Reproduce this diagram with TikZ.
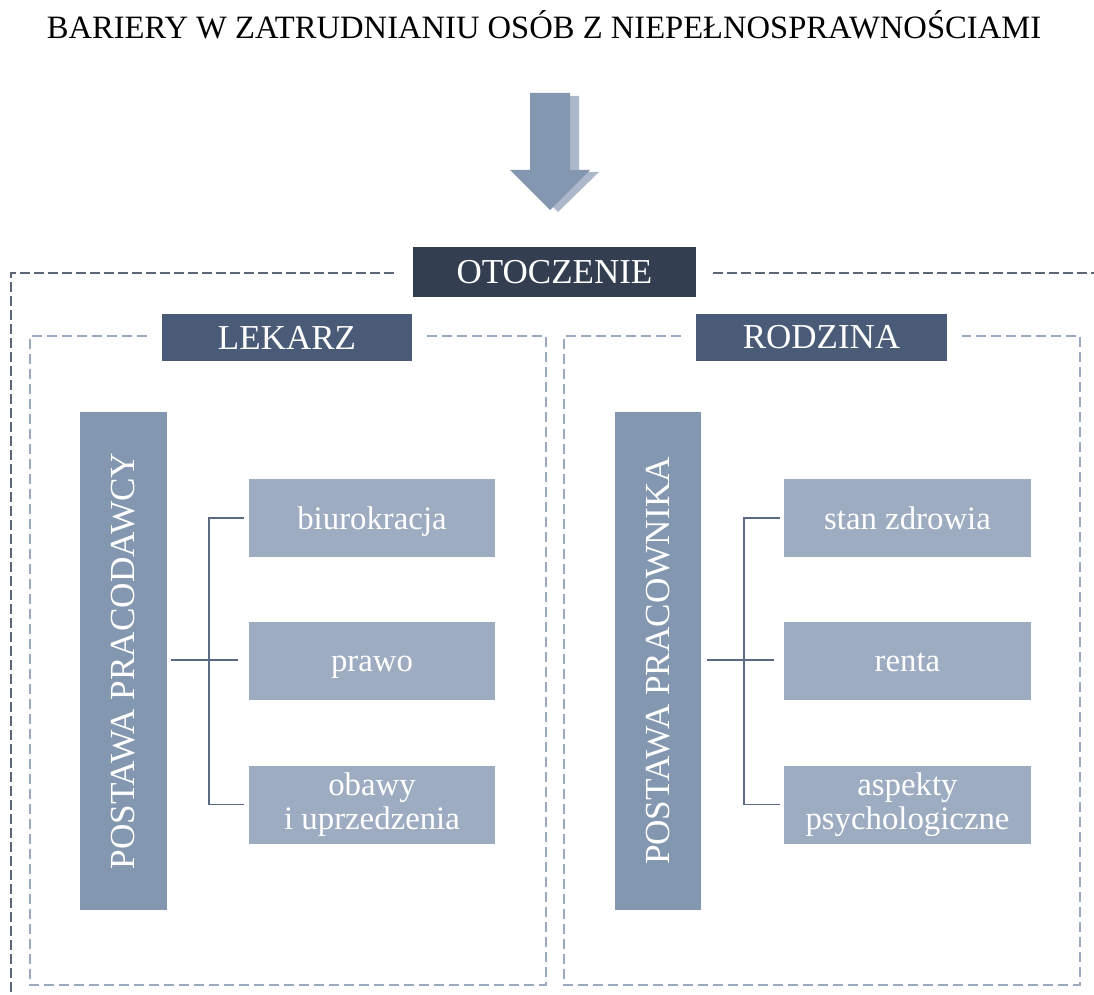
\documentclass[tikz,border=0pt]{standalone}
\usepackage{fontspec}
\setmainfont{Liberation Serif}
\definecolor{cdark}{HTML}{333F50}
\definecolor{cmid}{HTML}{4A5B77}
\definecolor{cbar}{HTML}{8497B0}
\definecolor{cbox}{HTML}{9EACC2}
\definecolor{cshadow}{HTML}{ADB9CA}
\definecolor{couter}{HTML}{5B6678}
\definecolor{cinner}{HTML}{9AAAC0}
\definecolor{cconn}{HTML}{5A6A85}
\tikzset{
  labelbox/.style={fill=#1, text=white, inner sep=0pt, font=\fontsize{35}{38}\selectfont},
  barbox/.style={fill=cbar, text=white, inner sep=0pt, minimum width=87pt, minimum height=498pt, font=\fontsize{35.2}{38}\selectfont},
  itembox/.style={fill=cbox, text=white, inner sep=0pt, minimum width=246pt, minimum height=78pt, align=center, font=\fontsize{32.8}{33.5}\selectfont},
  oneline/.style={text height=22pt, text depth=0pt},
  outerline/.style={draw=couter, line width=1.4pt, dash pattern=on 10pt off 4pt},
  innerline/.style={draw=cinner, line width=1.3pt, dash pattern=on 10pt off 5pt},
  conn/.style={draw=cconn, line width=1.3pt}
}
\begin{document}
\begin{tikzpicture}[x=1pt,y=-1pt]
\useasboundingbox (0,0) rectangle (1094,995);
\clip (0,0) rectangle (1094,995);
\fill[white] (0,0) rectangle (1094,995);

% title
\node[anchor=base, inner sep=0pt, font=\fontsize{32.6}{36}\selectfont] (title) at (544,39) {BARIERY W ZATRUDNIANIU OSÓB Z NIEPEŁNOSPRAWNOŚCIAMI};

% arrow with shadow
\fill[cshadow] (539,96) -- (579,96) -- (579,172) -- (599,172) -- (558,212) -- (518,172) -- (539,172) -- cycle;
\fill[cbar] (530,93) -- (570,93) -- (570,170) -- (590,170) -- (550,210) -- (510,170) -- (530,170) -- cycle;

% outer dashed frame
\path[outerline] (394,273) -- (11,273) -- (11,1010);
\path[outerline] (713,273) -- (1110,273);

% inner dashed frames
\path[innerline] (147,336) -- (30,336) -- (30,985) -- (546,985) -- (546,336) -- (426,336);
\path[innerline] (681,336) -- (564,336) -- (564,985) -- (1080,985) -- (1080,336) -- (962,336);

% headers
\node[labelbox=cdark, minimum width=283pt, minimum height=50pt] (otocz) at (554.5,272) {\raisebox{-2pt}{OTOCZENIE}};
\node[labelbox=cmid, minimum width=250pt, minimum height=47pt] (lekarz) at (287,337.5) {LEKARZ};
\node[labelbox=cmid, minimum width=251pt, minimum height=47pt] (rodzina) at (821.5,337.5) {RODZINA};

% vertical bars
\node[barbox] (barL) at (123,661) {\rotatebox{90}{\raisebox{-2pt}{POSTAWA PRACODAWCY}}};
\node[barbox, minimum width=86pt] (barR) at (658,661) {\rotatebox{90}{\raisebox{-2pt}{POSTAWA PRACOWNIKA}}};

% items left
\node[itembox, oneline] (l1) at (372,518) {biurokracja};
\node[itembox, oneline] (l2) at (372,660.5) {prawo};
\node[itembox] (l3) at (372,804.5) {obawy\\i uprzedzenia};

% items right
\node[itembox, oneline, minimum width=247pt] (r1) at (907.5,518) {stan zdrowia};
\node[itembox, oneline, minimum width=247pt] (r2) at (907.5,660.5) {renta};
\node[itembox, minimum width=247pt] (r3) at (907.5,804.5) {aspekty\\psychologiczne};

% connectors left
\coordinate (jl) at (209,660);
\path[conn] ([xshift=4pt]barL.east |- jl) -- ([xshift=-11pt]l2.west |- jl);
\path[conn] ([xshift=-5pt]l1.west) -| (jl) |- ([xshift=-5pt]l3.west);

% connectors right
\coordinate (jr) at (744,660);
\path[conn] ([xshift=6pt]barR.east |- jr) -- ([xshift=-10pt]r2.west |- jr);
\path[conn] ([xshift=-4pt]r1.west) -| (jr) |- ([xshift=-4pt]r3.west);
\end{tikzpicture}
\end{document}
